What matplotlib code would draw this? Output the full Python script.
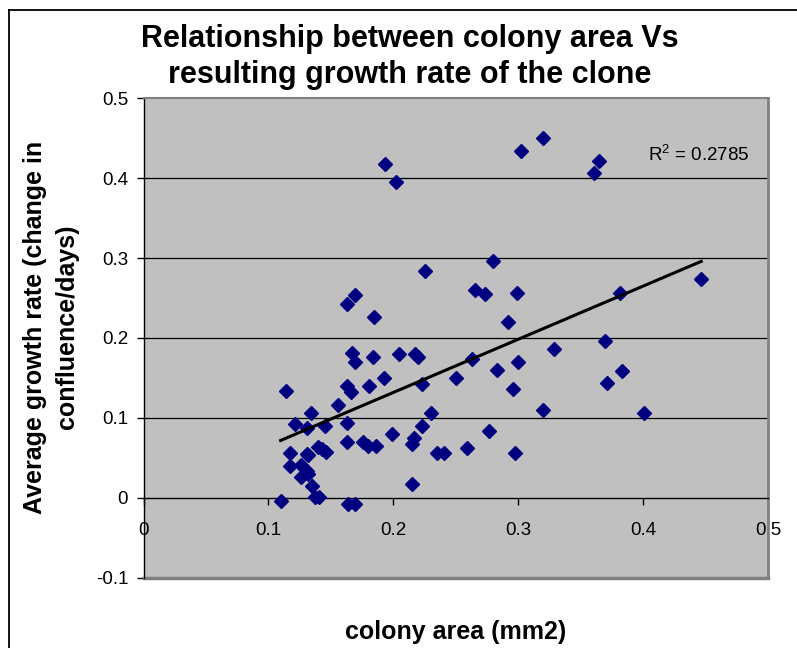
import numpy as np
import matplotlib
matplotlib.use("Agg")
import matplotlib.pyplot as plt
from matplotlib.lines import Line2D

plt.rcParams['font.family'] = ['Liberation Sans', 'DejaVu Sans']
plt.rcParams['mathtext.fontset'] = 'custom'
plt.rcParams['mathtext.rm'] = 'Liberation Sans'
plt.rcParams['mathtext.it'] = 'Liberation Sans'

# Data
colony_area = [
    0.1934, 0.2022, 0.2251, 0.1627, 0.1693, 0.1843,
    0.3201, 0.3022, 0.3645, 0.3604, 0.2796, 0.2657, 0.2734, 0.2993, 0.2921,
    0.4466, 0.3818,
    0.1138, 0.1667, 0.1693, 0.1835, 0.2046, 0.2174, 0.2200, 0.1926,
    0.1627, 0.1659, 0.1808, 0.2227, 0.1555, 0.1339, 0.2299, 0.1213,
    0.1309, 0.1456, 0.1627, 0.2227, 0.1987, 0.1173, 0.1307, 0.1320,
    0.1400, 0.1427, 0.1461, 0.1627, 0.1760, 0.1795, 0.1861, 0.2152,
    0.2168, 0.2352, 0.2408, 0.1173, 0.1261, 0.1261, 0.1311, 0.1319,
    0.1347, 0.1373, 0.1405, 0.2152, 0.1098, 0.1640, 0.1693,
    0.3695, 0.3287, 0.2996, 0.2628, 0.3834, 0.2833, 0.2504, 0.3709,
    0.2961, 0.3201, 0.4010, 0.2769, 0.2593, 0.2972,
]
growth_rate = [
    0.4178, 0.3956, 0.2842, 0.2422, 0.2538, 0.2259,
    0.4499, 0.4340, 0.4219, 0.4061, 0.2964, 0.2601, 0.2547, 0.2567, 0.2204,
    0.2742, 0.2567,
    0.1341, 0.1808, 0.1696, 0.1766, 0.1800, 0.1800, 0.1758, 0.1503,
    0.1403, 0.1328, 0.1403, 0.1420, 0.1161, 0.1057, 0.1057, 0.0920,
    0.0877, 0.0899, 0.0940, 0.0899, 0.0799, 0.0557, 0.0548, 0.0530,
    0.0640, 0.0611, 0.0569, 0.0694, 0.0694, 0.0652, 0.0652, 0.0673,
    0.0745, 0.0557, 0.0557, 0.0402, 0.0410, 0.0264, 0.0335, 0.0298,
    0.0148, 0.0006, 0.0006, 0.0169, -0.0040, -0.0078, -0.0078,
    0.1962, 0.1862, 0.1703, 0.1737, 0.1587, 0.1603, 0.1503, 0.1441,
    0.1362, 0.1099, 0.1057, 0.0840, 0.0619, 0.0557,
]
# Linear trendline (Excel fit), drawn over the data range
trend_slope = 0.6656
trend_intercept = -0.0013
r2_label = "0.2785"
x_ticks = [0, 0.1, 0.2, 0.3, 0.4, 0.5]
y_ticks = [-0.1, 0, 0.1, 0.2, 0.3, 0.4, 0.5]
title = "Relationship between colony area Vs\nresulting growth rate of the clone"
x_label = "colony area (mm2)"
y_label = "Average growth rate (change in\nconfluence/days)"

W, H = 797, 648
fig = plt.figure(figsize=(W / 100, H / 100), dpi=100)

# chart-area border (left and top visible)
fig.add_artist(Line2D([9 / W, 9 / W], [0, 1 - 10 / H], color='black', lw=1.3, transform=fig.transFigure))
fig.add_artist(Line2D([9 / W, 1], [1 - 10 / H, 1 - 10 / H], color='black', lw=1.3, transform=fig.transFigure))

left, right, top, bottom = 143.5, 768, 98.3, 577.7
ax = fig.add_axes([left / W, 1 - bottom / H, (right - left) / W, (bottom - top) / H])
ax.set_facecolor('#C0C0C0')
ax.set_xlim(0, 0.5)
ax.set_ylim(-0.1, 0.5)

# gridlines
for yv in y_ticks[2:-1]:
    ax.axhline(yv, color='black', lw=0.9, zorder=1)

# frame
for s in ['top', 'right']:
    ax.spines[s].set_color('#808080')
    ax.spines[s].set_linewidth(2)
ax.spines['top'].set_linewidth(1.5)
ax.spines['left'].set_color('black')
ax.spines['left'].set_linewidth(1)
ax.spines['bottom'].set_position(('data', 0))
ax.spines['bottom'].set_color('black')
ax.spines['bottom'].set_linewidth(1)
ax.add_artist(Line2D([0, 1], [0, 0], color='#808080', lw=2.5, transform=ax.transAxes, clip_on=False))

ax.set_xticks(x_ticks)
ax.set_xticklabels([f"{v:g}" for v in x_ticks])
ax.set_yticks(y_ticks)
ax.set_yticklabels([f"{v:g}" for v in y_ticks])
ax.tick_params(axis='x', direction='out', length=5, width=1, pad=12.5, labelsize=13.5)
ax.tick_params(axis='y', direction='out', length=5, width=1, pad=6, labelsize=13.5)

ax.plot(colony_area, growth_rate, linestyle='none', marker='D', markersize=7,
        color='#000080', zorder=3, clip_on=False)

xa = np.array(colony_area)
xs = np.array([xa.min(), xa.max()])
ax.plot(xs, trend_slope * xs + trend_intercept, color='black', lw=2.2, zorder=4)

ax.text(0.404, 0.4215, r'R$^2$ = ' + r2_label, fontsize=13.5, ha='left', va='baseline')

fig.text(410 / W, 1 - 57 / H, title, ha='center', va='center', fontsize=22,
         fontweight='bold', linespacing=1.3)
fig.text(456 / W, 1 - 632 / H, x_label, ha='center', va='center', fontsize=18, fontweight='bold')
fig.text(51 / W, 1 - 327 / H, y_label, ha='center', va='center', rotation=90,
         fontsize=18, fontweight='bold', multialignment='center', linespacing=1.4)

fig.savefig('out.png', dpi=100)
